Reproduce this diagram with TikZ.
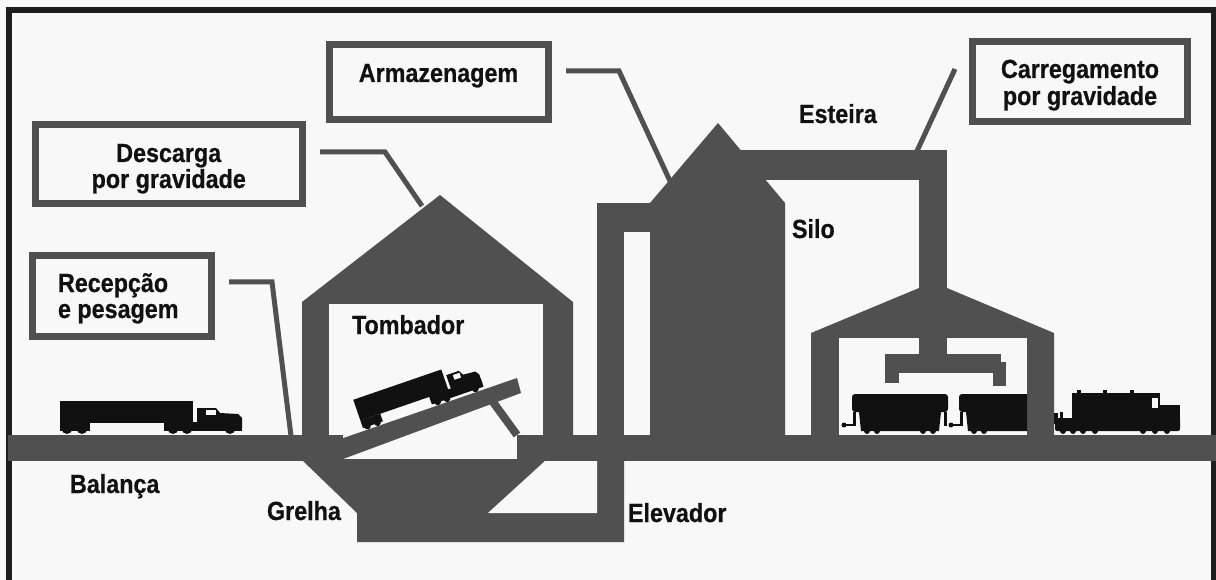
\documentclass[tikz,border=0pt]{standalone}
\usepackage{fontspec}
\setmainfont{Liberation Sans}[BoldFeatures={FakeStretch=0.89, FakeBold=0.6}]
\definecolor{steel}{HTML}{505050}
\definecolor{paper}{HTML}{F8F8F8}
\definecolor{ink}{HTML}{111111}
\definecolor{framecol}{HTML}{1E1E1E}
\begin{document}
\begin{tikzpicture}[x=1pt,y=-1pt,
  every node/.style={inner sep=0pt, outer sep=0pt},
  lbl/.style={font=\fontsize{26.2}{30}\selectfont\bfseries, text=ink},
  lblbox/.style={rectangle, draw=steel, line width=7pt, fill=paper},
  leader/.style={draw=steel, line width=5pt},
  truck/.pic={
    % trailer and rear bogie
    \fill[ink] (0,-11) rectangle (133,-33);
    \fill[ink] (0,-3) rectangle (30,-11);
    \foreach \wx in {7,22} \fill[ink] (\wx,-5.5) circle (5.5pt);
    % tractor frame and wheels
    \fill[ink] (104,-3) rectangle (182,-12);
    \foreach \wx in {113,127,170} \fill[ink] (\wx,-5.5) circle (5.5pt);
    % cab and hood
    \fill[ink] (137,-6) -- (137,-26) -- (156,-26) -- (160,-21) -- (178,-20) -- (182,-16) -- (182,-6) -- cycle;
    \fill[paper] (146,-19) rectangle (156,-24);
  },
  wagon/.pic={
    \fill[ink, rounded corners=3pt] (0,-22) rectangle (96,-40);
    \fill[ink] (7,-22) -- (89,-22) -- (87,-3) -- (9,-3) -- cycle;
    \fill[ink] (1,-8) rectangle (4,-22);
    \fill[ink] (92,-8) rectangle (95,-22);
    \draw[ink, line width=2pt] (-8,-9) -- (1,-9);
    \fill[ink] (-8,-9) circle (2.5pt);
    \foreach \wx in {15,25,71,81} \fill[ink] (\wx,-3) circle (3pt);
  },
  engine/.pic={
    \fill[ink, rounded corners=2pt] (0,-3) rectangle (125,-16);
    \fill[ink] (17,-16) rectangle (105,-41);
    \fill[ink] (100,-14) rectangle (125,-29);
    \fill[paper] (97,-26) rectangle (103,-36);
    \fill[ink] (5,-14) rectangle (8,-22);
    \foreach \bx in {22,48,75} \fill[ink] (\bx,-40) rectangle (\bx+4,-44);
    \foreach \wx in {8,18,28,40,88,100,112} \fill[ink] (\wx,-3) circle (3pt);
  }]
\useasboundingbox (0,0) rectangle (1216,580);
\fill[paper] (0,0) rectangle (1216,580);

% outer frame
\draw[framecol, line width=5.5pt] (9,600) -- (9,10) -- (1214,10) -- (1214,600);

% ground
\fill[steel] (8,435) rectangle (1216,461);

% unloading shed (tombador)
\fill[steel] (302,436) -- (302,302) -- (440,195) -- (573,302) -- (573,436) -- cycle;
\fill[paper] (329,304) rectangle (543,435);

% receiving hopper and pit below ground
\fill[steel] (302,460) -- (357,513) -- (357,542) -- (624,542) -- (624,460) -- cycle;
\fill[paper] (545,461) -- (597,461) -- (597,513) -- (488,513) -- cycle;

% opening under the tipping ramp, ramp and strut
\fill[paper] (343,434) rectangle (517,459);
\fill[steel] (329,443) -- (517,378) -- (521,393) -- (343,459) -- cycle;
\draw[steel, line width=8pt] (493,402) -- (517,435);

% elevator
\fill[steel] (597,203) rectangle (650,232);
\fill[steel] (597,203) rectangle (624,461);

% silo
\fill[steel] (650,436) -- (650,203) -- (718,123) -- (785,203) -- (785,436) -- cycle;

% conveyor
\fill[steel] (718,150) rectangle (947,180);
\fill[steel] (919,150) rectangle (947,300);

% loading shed
\fill[steel] (811,436) -- (811,333) -- (919,288) -- (947,288) -- (1054,333) -- (1054,436) -- cycle;
\fill[paper] (839,338) rectangle (1027,435);
\fill[steel] (919,330) rectangle (947,356);
\fill[steel] (885,354) rectangle (1001,373);
\fill[steel] (885,360) rectangle (899,383);
\fill[steel] (993,362) rectangle (1006,386);

% vehicles
\pic (truckA) at (60,434) {truck};
\pic[rotate=19, xscale=0.7] (truckB) at (364,431) {truck};
\begin{scope}
  \clip (839,338) rectangle (1027,435);
  \pic (wagonA) at (852,434) {wagon};
  \pic (wagonB) at (959,434) {wagon};
\end{scope}
\fill[ink] (1054,413) rectangle (1058,424);
\pic (loco) at (1055,434) {engine};

% label boxes
\node[lblbox, minimum width=179pt, minimum height=80pt] (recbox) at (121.5,296) {};
\node[lblbox, minimum width=266.5pt, minimum height=78.5pt] (desbox) at (168.75,164.25) {};
\node[lblbox, minimum width=219pt, minimum height=74.5pt] (armbox) at (438.5,82.25) {};
\node[lblbox, minimum width=215pt, minimum height=79.5pt] (carbox) at (1080,81.75) {};

\node[lbl, anchor=base west] (rec1) at (58,292) {Recepção};
\node[lbl, anchor=base west] (rec2) at (58,318) {e pesagem};
\node[lbl, anchor=base] (des1) at (168.75,162) {Descarga};
\node[lbl, anchor=base] (des2) at (168.75,188) {por gravidade};
\node[lbl, anchor=base] (arm1) at (438.5,82) {Armazenagem};
\node[lbl, anchor=base] (car1) at (1080,78) {Carregamento};
\node[lbl, anchor=base] (car2) at (1080,105) {por gravidade};

% leaders
\coordinate (recS) at (229,282);
\coordinate (recT) at (291,436);
\coordinate (desS) at (320,152);
\coordinate (desT) at (422,206);
\coordinate (armS) at (566,71);
\coordinate (armT) at (670,181);
\coordinate (carS) at (955,69);
\coordinate (carT) at (917,151);
\draw[leader] (recS) -- (272,282) -- (recT);
\draw[leader] (desS) -- (385,152) -- (desT);
\draw[leader] (armS) -- (619,71) -- (armT);
\draw[leader] (carS) -- (carT);

% part names
\node[lbl, anchor=base west] (tomb) at (352,334) {Tombador};
\node[lbl, anchor=base west] (este) at (799,123) {Esteira};
\node[lbl, anchor=base west] (silo) at (792,238) {Silo};
\node[lbl, anchor=base west] (bala) at (70,493) {Balança};
\node[lbl, anchor=base west] (grel) at (267,520) {Grelha};
\node[lbl, anchor=base west] (elev) at (628,522) {Elevador};
\end{tikzpicture}
\end{document}
